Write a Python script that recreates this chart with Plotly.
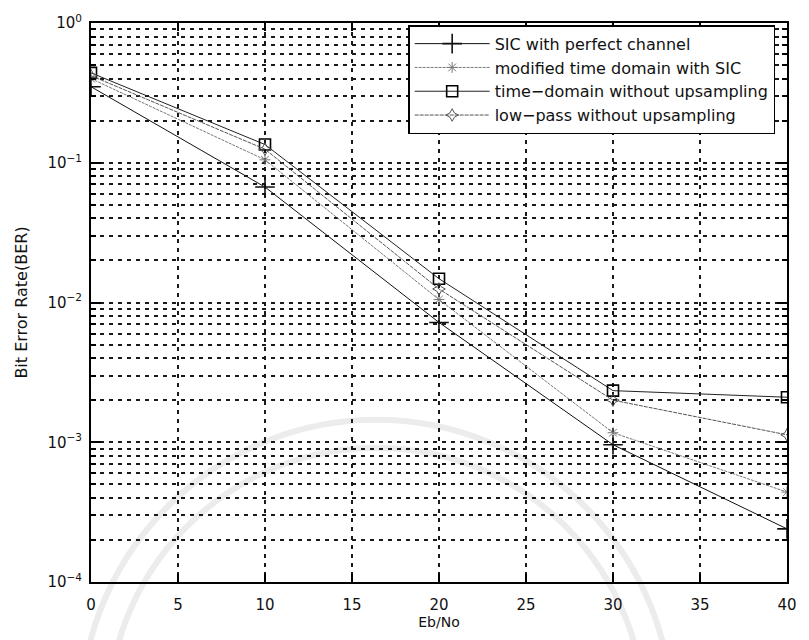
import plotly.graph_objects as go

# Eb/No sample points (dB)
ebno = [0, 10, 20, 30, 40]

# Bit error rate for each receiver
ber_sic_perfect = [0.35, 0.067, 0.0072, 0.00096, 0.00024]
ber_modified_td_sic = [0.40, 0.105, 0.0105, 0.00117, 0.00044]
ber_td_no_upsampling = [0.44, 0.135, 0.0148, 0.00234, 0.0021]
ber_lowpass_no_upsampling = [0.42, 0.125, 0.0125, 0.0020, 0.00113]

series_names = [
    "SIC with perfect channel",
    "modified time domain with SIC",
    "time\u2212domain without upsampling",
    "low\u2212pass without upsampling",
]

x_ticks = [0, 5, 10, 15, 20, 25, 30, 35, 40]
y_ticks = [1e-4, 1e-3, 1e-2, 1e-1, 1e0]
y_tick_text = ["10<sup>\u22124</sup>", "10<sup>\u22123</sup>", "10<sup>\u22122</sup>",
               "10<sup>\u22121</sup>", "10<sup>0</sup>"]
y_minor = [m * 10.0 ** k for k in range(-4, 0) for m in range(2, 10)]

FONT = "DejaVu Sans, Liberation Sans, Arial, sans-serif"
GRID = "#1a1a1a"
DASH = "4px,5px"

W, H = 809, 640
ML, MR, MT, MB = 91, 13, 23, 55
PW, PH = W - ML - MR, H - MT - MB


def px_to_paper(px, py):
    return (px - ML) / PW, (H - MB - py) / PH


fig = go.Figure()

fig.add_trace(go.Scatter(
    x=ebno, y=ber_sic_perfect, name=series_names[0], mode="lines+markers",
    line=dict(color="#111111", width=1),
    marker=dict(symbol="cross-thin-open", size=14, line=dict(color="#000000", width=1.6)),
))
fig.add_trace(go.Scatter(
    x=ebno, y=ber_modified_td_sic, name=series_names[1], mode="lines+markers",
    line=dict(color="#777777", width=1, dash="3px,1px"),
    marker=dict(symbol="asterisk-open", size=9, line=dict(color="#666666", width=1)),
))
fig.add_trace(go.Scatter(
    x=ebno, y=ber_td_no_upsampling, name=series_names[2], mode="lines+markers",
    line=dict(color="#222222", width=1),
    marker=dict(symbol="square-open", size=11, color="#000000", line=dict(color="#000000", width=1.6)),
))
fig.add_trace(go.Scatter(
    x=ebno, y=ber_lowpass_no_upsampling, name=series_names[3], mode="lines+markers",
    line=dict(color="#555555", width=1, dash="4px,1px"),
    marker=dict(symbol="star-diamond-open", size=9, line=dict(color="#666666", width=1)),
))

# faint seal rings printed behind the plot
shapes = []
for r in (300, 272):
    x0, y1 = px_to_paper(380 - r, 722 - r)
    x1, y0 = px_to_paper(380 + r, 722 + r)
    shapes.append(dict(type="circle", xref="paper", yref="paper",
                       x0=x0, x1=x1, y0=y0, y1=y1, layer="below",
                       line=dict(color="#ececec", width=6)))

fig.update_layout(
    width=W, height=H,
    margin=dict(l=ML, r=MR, t=MT, b=MB),
    paper_bgcolor="white", plot_bgcolor="rgba(0,0,0,0)",
    font=dict(family=FONT, size=14, color="#111111"),
    showlegend=True,
    shapes=shapes,
    legend=dict(
        x=0.983, y=0.996, xanchor="right", yanchor="top",
        bgcolor="white", bordercolor="#000000", borderwidth=1.5,
        font=dict(family=FONT, size=16, color="#111111"),
        tracegroupgap=0, itemwidth=75,
    ),
)

fig.update_xaxes(
    range=[0, 40], tickvals=x_ticks, ticktext=[str(v) for v in x_ticks],
    ticks="inside", ticklen=8, tickwidth=1.5, tickcolor="#000000",
    showline=True, linecolor="#000000", linewidth=2, mirror="ticks",
    showgrid=True, gridcolor=GRID, gridwidth=1.5, griddash=DASH,
    zeroline=False, ticklabelstandoff=8,
    title=dict(text="Eb/No", font=dict(family=FONT, size=14), standoff=4),
    tickfont=dict(family=FONT, size=15),
)

fig.update_yaxes(
    type="log", range=[-4, 0], tickvals=y_ticks, ticktext=y_tick_text,
    ticks="inside", ticklen=10, tickwidth=1.5, tickcolor="#000000",
    showline=True, linecolor="#000000", linewidth=2, mirror="ticks",
    showgrid=True, gridcolor=GRID, gridwidth=1.5, griddash=DASH,
    zeroline=False, ticklabelstandoff=4,
    minor=dict(tickvals=y_minor, ticks="inside", ticklen=5, tickcolor="#000000",
               showgrid=True, gridcolor=GRID, gridwidth=1.5, griddash=DASH),
    title=dict(text="Bit Error Rate(BER)", font=dict(family=FONT, size=16), standoff=16),
    tickfont=dict(family=FONT, size=15),
)

fig.write_html("out.html")
